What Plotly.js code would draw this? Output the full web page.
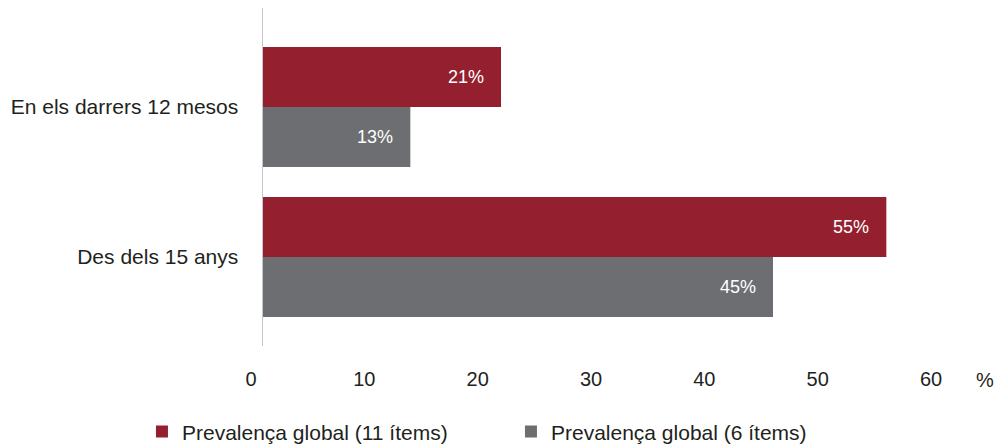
<!DOCTYPE html>
<html>
<head>
<meta charset="utf-8">
<script src="https://cdn.plot.ly/plotly-3.0.1.min.js"></script>
<style>html,body{margin:0;padding:0;background:#fff;}#chart{width:1002px;height:446px;}</style>
</head>
<body>
<div id="chart"></div>
<script>
const categories = ["En els darrers 12 mesos", "Des dels 15 anys"];
const seriesNames = ["Prevalença global (11 ítems)", "Prevalença global (6 ítems)"];
const values11 = [21, 55];
const values6 = [13, 45];
const labels11 = ["21%", "55%"];
const labels6 = ["13%", "45%"];
const tickValues = [0, 10, 20, 30, 40, 50, 60];

const RED = "#941f2e";
const GRAY = "#6d6e71";
const FONT = "Liberation Sans, Arial, sans-serif";

const traces = [
  {type: "bar", orientation: "h", name: seriesNames[0], y: categories, x: values11,
   marker: {color: RED}, offset: -0.4, width: 0.4, hoverinfo: "none"},
  {type: "bar", orientation: "h", name: seriesNames[1], y: categories, x: values6,
   marker: {color: GRAY}, offset: 0, width: 0.4, hoverinfo: "none"}
];

const annotations = [];
categories.forEach((c, i) => {
  annotations.push({x: values11[i], y: i - 0.2, xref: "x", yref: "y", text: labels11[i],
    showarrow: false, xanchor: "right", xshift: -15, font: {family: FONT, size: 18, color: "#ffffff"}});
  annotations.push({x: values6[i], y: i + 0.2, xref: "x", yref: "y", text: labels6[i],
    showarrow: false, xanchor: "right", xshift: -15, font: {family: FONT, size: 18, color: "#ffffff"}});
});
annotations.push({x: 1.062, y: -0.1006, xref: "paper", yref: "paper", text: "%", showarrow: false,
  xanchor: "center", yanchor: "middle", font: {family: FONT, size: 20, color: "#231f20"}});

const layout = {
  width: 1002, height: 446,
  margin: {l: 263, r: 59, t: 8, b: 100, autoexpand: false},
  paper_bgcolor: "#ffffff", plot_bgcolor: "#ffffff",
  barmode: "overlay",
  font: {family: FONT, size: 20, color: "#231f20"},
  xaxis: {range: [0, 60], tickvals: tickValues, showgrid: false, zeroline: false, showline: false,
    ticks: "", ticklabelshift: -12, ticklabelstandoff: 19, tickfont: {size: 20, color: "#231f20"}, fixedrange: true},
  yaxis: {type: "category", categoryarray: categories, range: [1.593, -0.66], showgrid: false, zeroline: false,
    showline: true, linecolor: "#c3c7cb", linewidth: 1.5, ticks: "", ticklabelstandoff: 19,
    tickfont: {size: 21, color: "#231f20"}, fixedrange: true},
  showlegend: true,
  legend: {orientation: "h", x: -0.178, xanchor: "left", y: -0.254, yanchor: "middle",
    entrywidth: 324, entrywidthmode: "pixels", font: {size: 21, color: "#231f20"}, traceorder: "normal"},
  annotations: annotations
};

Plotly.newPlot("chart", traces, layout, {displayModeBar: false, staticPlot: true});
</script>
</body>
</html>
